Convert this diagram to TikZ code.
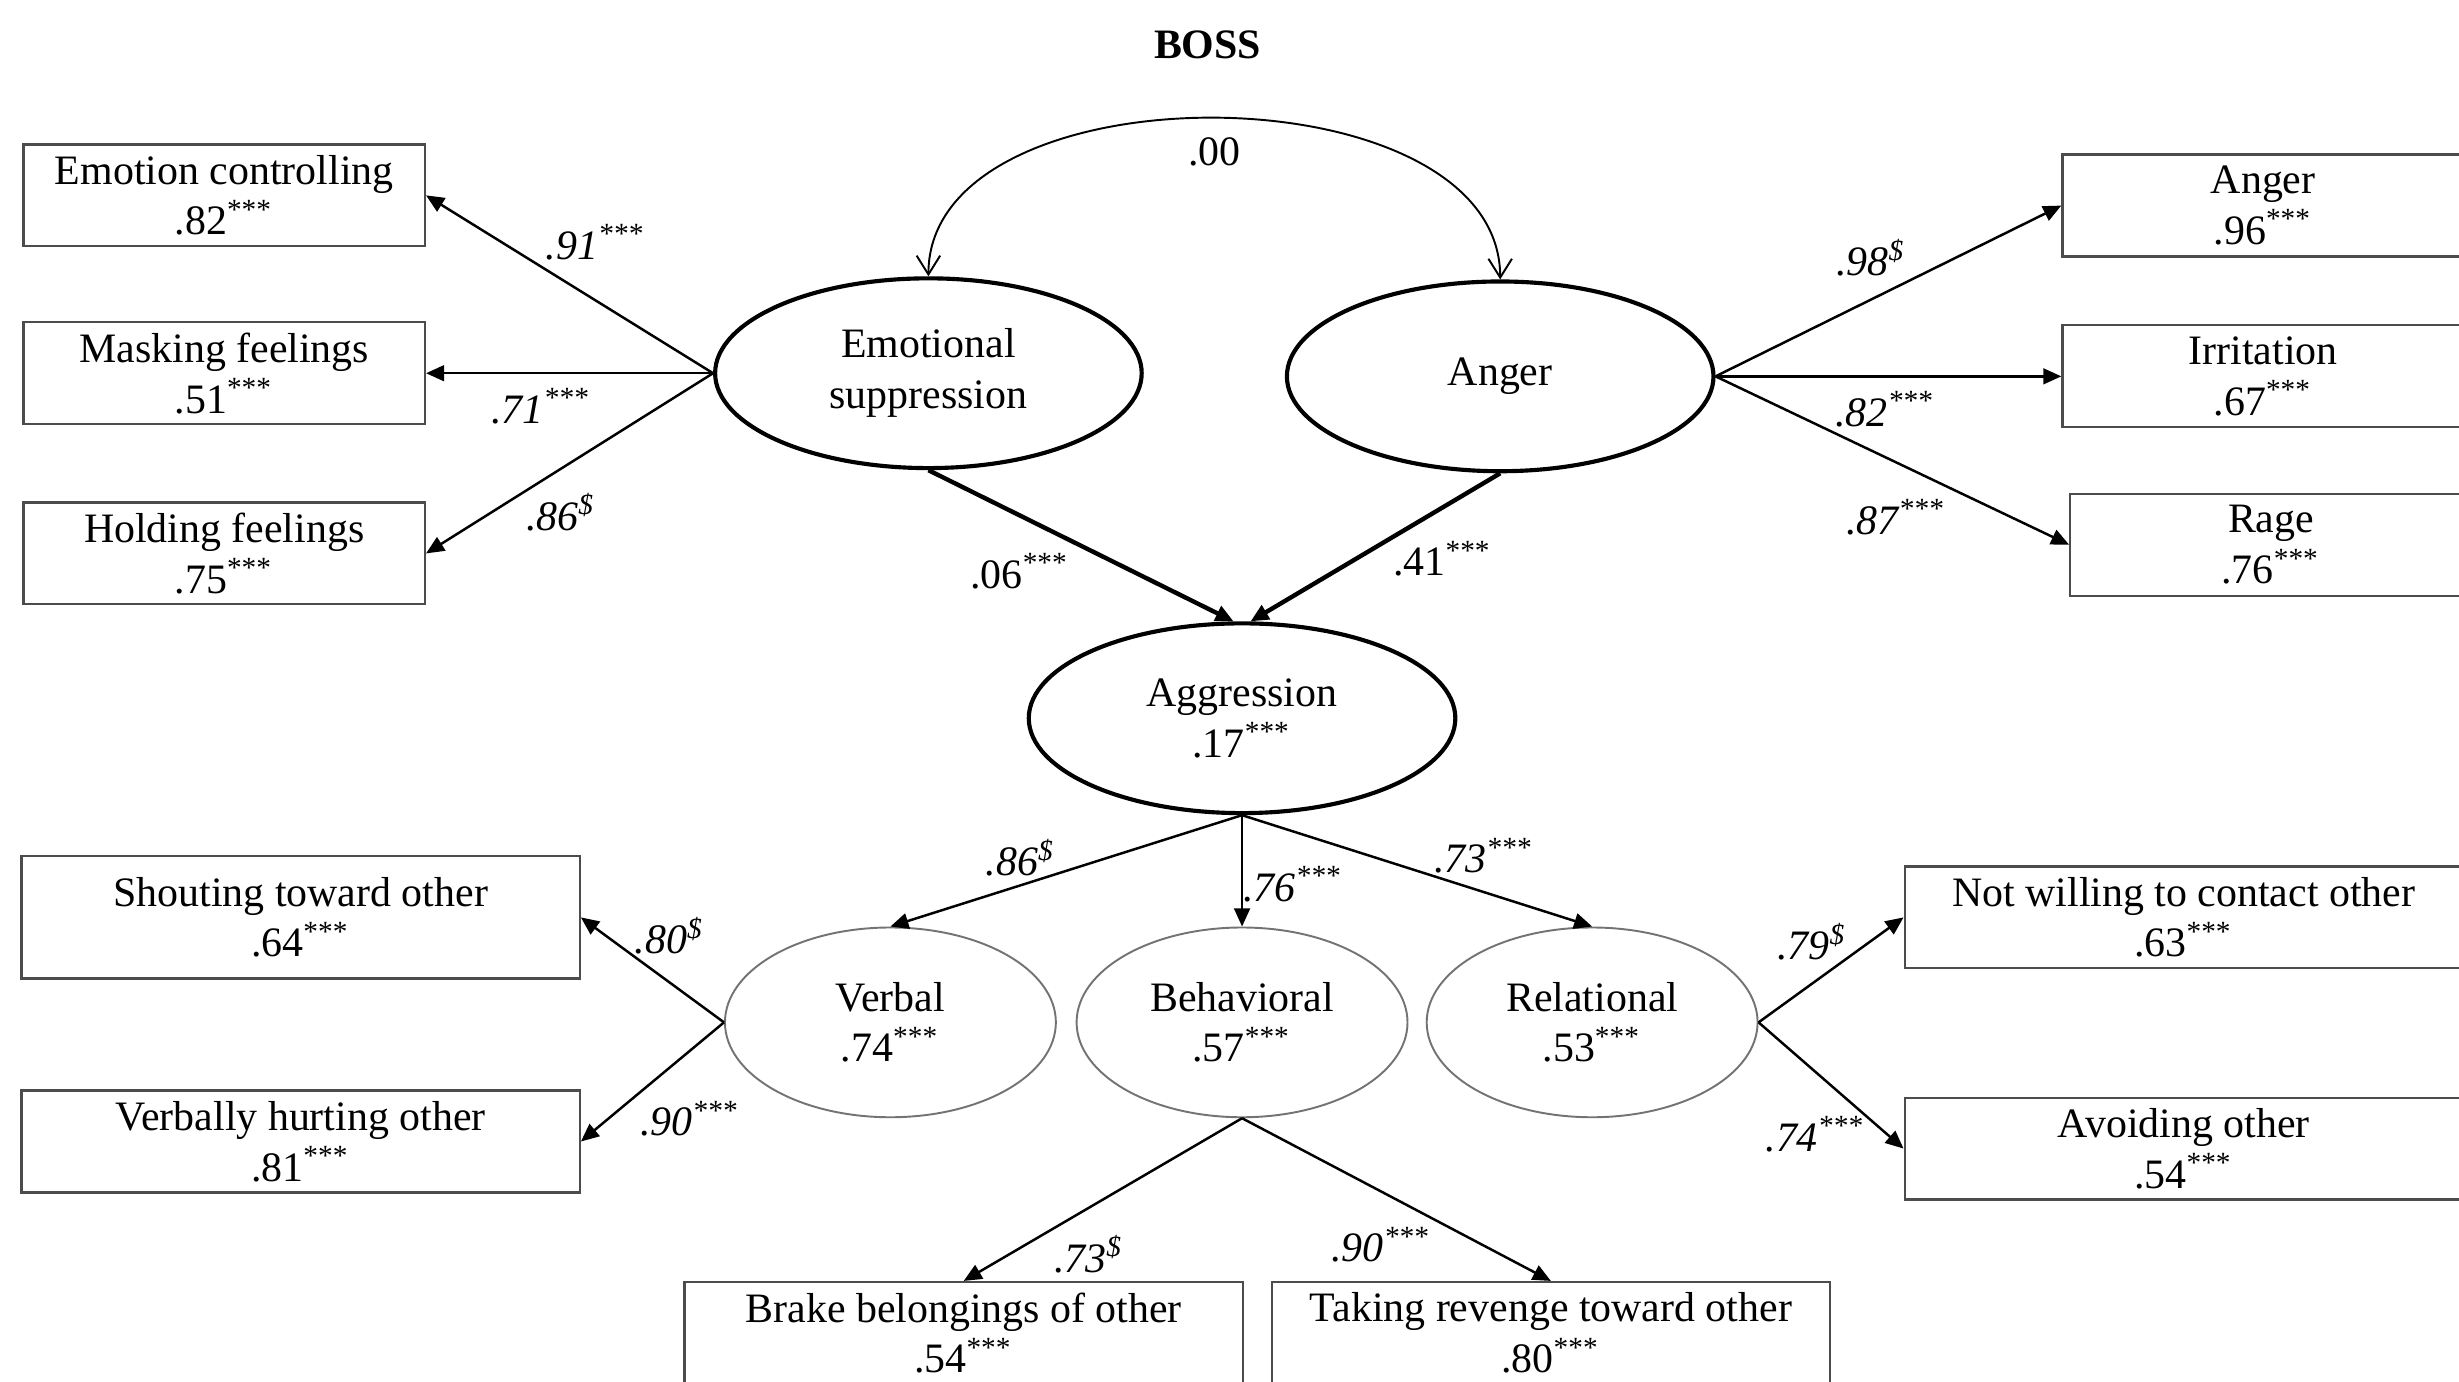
\documentclass[tikz,border=0pt]{standalone}
\usepackage{fontspec}
\setmainfont{Liberation Serif}
\usepackage{tikz}
\usetikzlibrary{shapes.geometric, arrows.meta, positioning}

\newcommand{\figfont}{\fontsize{7.6}{9.2}\selectfont}
\newcommand{\sigp}{\textsuperscript{***}}
\newcommand{\fixp}{\textsuperscript{\$}}

\begin{document}
\begin{tikzpicture}[
    font=\figfont,
    latent/.style={ellipse, draw, line width=0.75pt, minimum width=2.72cm, minimum height=1.21cm, align=center, inner sep=1pt},
    facet/.style={ellipse, draw=black!55, line width=0.35pt, minimum width=2.11cm, minimum height=1.21cm, align=center, inner sep=1pt},
    item/.style={rectangle, draw=black!70, line width=0.4pt, minimum width=2.56cm, minimum height=0.65cm, align=center, inner sep=1pt},
    wide/.style={minimum width=3.56cm},
    coef/.style={inner sep=0pt, font=\figfont},
    load/.style={coef, font=\figfont\itshape},
    arrow/.style={-{Triangle[length=1.15mm, width=1mm]}, line width=0.45pt},
    heavy/.style={arrow, line width=0.8pt},
    cov/.style={{Straight Barb[length=1.2mm, width=1.5mm]}-{Straight Barb[length=1.2mm, width=1.5mm]}, line width=0.35pt}
]
    \useasboundingbox (0,0) rectangle (15.68,8.81);
    \clip (0,0) rectangle (15.68,8.81);

    % Title
    \node[font=\figfont\bfseries] (boss) at (7.70,8.525) {BOSS};

    % Predictors
    \node[latent] (es) at (5.92,6.43) {Emotional\\suppression};
    \node[latent] (ang) at (9.566,6.41) {Anger};

    % Emotional suppression items
    \node[item, left=1.83cm of es] (mask) {Masking feelings\\.51\sigp};
    \node[item, above=0.47cm of mask] (ctrl) {Emotion controlling\\.82\sigp};
    \node[item, below=0.485cm of mask] (hold) {Holding feelings\\.75\sigp};

    % Anger items
    \node[item, right=2.205cm of ang] (irr) {Irritation\\.67\sigp};
    \node[item, above=0.425cm of irr] (angi) {Anger\\.96\sigp};
    \node[item, below=0.41cm of irr, xshift=0.05cm] (rage) {Rage\\.76\sigp};

    % Outcome and facets
    \node[latent] (agg) at (7.92,4.23) {Aggression\\.17\sigp};
    \node[facet, below=0.71cm of agg] (beh) {Behavioral\\.57\sigp};
    \node[facet, left=0.12cm of beh] (verb) {Verbal\\.74\sigp};
    \node[facet, right=0.11cm of beh] (rel) {Relational\\.53\sigp};

    % Facet items
    \node[item, wide, minimum height=0.78cm] (shout) at (1.917,2.96) {Shouting toward other\\.64\sigp};
    \node[item, wide, below=0.70cm of shout] (hurt) {Verbally hurting other\\.81\sigp};
    \node[item, wide] (nocon) at (13.925,2.96) {Not willing to contact other\\.63\sigp};
    \node[item, wide, below=0.81cm of nocon] (avoid) {Avoiding other\\.54\sigp};
    \node[item, wide] (brake) at (6.145,0.31) {Brake belongings of other\\.54\sigp};
    \node[item, wide, right=0.17cm of brake] (reven) {Taking revenge toward other\\.80\sigp};

    % Covariance
    \draw[cov] (es.north) to[out=90, in=90, looseness=0.95] node[coef, midway, below=1.2mm] {.00} (ang.north);

    % Loadings
    \draw[arrow] (es.west) -- node[load, pos=0.41, above=2.5mm] {.91\sigp} (ctrl.east);
    \draw[arrow] (es.west) -- node[load, pos=0.60, below=0.9mm] {.71\sigp} (mask.east);
    \draw[arrow] (es.west) -- node[load, pos=0.53, below=1.5mm] {.86\fixp} (hold.east);
    \draw[arrow] (ang.east) -- node[load, pos=0.45, above=1.4mm] {.98\fixp} (angi.west);
    \draw[arrow] (ang.east) -- node[load, pos=0.49, below=0.9mm] {.82\sigp} (irr.west);
    \draw[arrow] (ang.east) -- node[load, pos=0.51, below=2.3mm] {.87\sigp} (rage.west);

    % Structural paths
    \draw[heavy] (es.south) -- node[coef, pos=0.3, below=2.3mm] {.06\sigp} (agg.95);
    \draw[heavy] (ang.south) -- node[coef, pos=0.23, below=2mm] {.41\sigp} (agg.85);

    \draw[arrow] (agg.south) -- node[load, pos=0.63, above=0.5mm] {.86\fixp} (verb.north);
    \draw[arrow] (agg.south) -- node[load, pos=0.62, right=0mm] {.76\sigp} (beh.north);
    \draw[arrow] (agg.south) -- node[load, pos=0.69, above=1.1mm] {.73\sigp} (rel.north);

    \draw[arrow] (verb.west) -- node[load, pos=0.38, above=1.7mm] {.80\fixp} (shout.east);
    \draw[arrow] (verb.west) -- node[load, pos=0.24, below=3.1mm] {.90\sigp} (hurt.east);
    \draw[arrow] (rel.east) -- node[load, pos=0.37, above=1.4mm] {.79\fixp} (nocon.west);
    \draw[arrow] (rel.east) -- node[load, pos=0.39, below=2.8mm] {.74\sigp} (avoid.west);
    \draw[arrow] (beh.south) -- node[load, pos=0.55, below=1.7mm] {.73\fixp} (brake.north);
    \draw[arrow] (beh.south) -- node[load, pos=0.45, below=2.2mm] {.90\sigp} (reven.north);
\end{tikzpicture}
\end{document}
